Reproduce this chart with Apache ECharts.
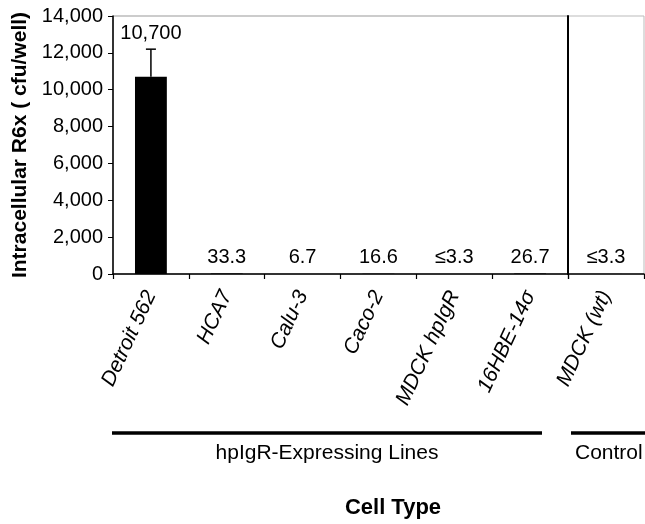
<!DOCTYPE html>
<html>
<head>
<meta charset="utf-8">
<script src="https://cdn.jsdelivr.net/npm/echarts@6/dist/echarts.min.js"></script>
<style>html,body{margin:0;padding:0;background:#fff}#c{width:645px;height:524px}</style>
</head>
<body>
<div id="c"></div>
<script>
// ---- data ----
const expressingCats = ['Detroit 562', 'HCA7', 'Calu-3', 'Caco-2', 'MDCK hpIgR', '16HBE-14σ'];
const expressingVals = [10700, 33.3, 6.7, 16.6, 3.3, 26.7];
const expressingErr = [1500, 0, 0, 0, 0, 0];
const expressingLabels = ['10,700', '33.3', '6.7', '16.6', '≤3.3', '26.7'];
const controlCats = ['MDCK (wt)'];
const controlVals = [3.3];
const controlErr = [0];
const controlLabels = ['≤3.3'];
const yTicks = { min: 0, max: 14000, interval: 2000 };

const FONT = '"Liberation Sans", Arial, Helvetica, sans-serif';
const chart = echarts.init(document.getElementById('c'), null, { renderer: 'canvas' });

function errRender(labels) {
  return function (params, api) {
    const i = api.value(0), v = api.value(1), e = api.value(2);
    const base = api.coord([i, v]);
    const top = api.coord([i, v + e]);
    const children = [];
    if (e > 0) {
      children.push({ type: 'line', shape: { x1: base[0], y1: base[1], x2: top[0], y2: top[1] }, style: { stroke: '#000', lineWidth: 1.5 } });
      children.push({ type: 'line', shape: { x1: top[0] - 5, y1: top[1], x2: top[0] + 5, y2: top[1] }, style: { stroke: '#000', lineWidth: 1.5 } });
    }
    children.push({ type: 'text', x: top[0], y: top[1] - 6, style: { text: labels[params.dataIndex], fontFamily: FONT, fontSize: 20, fill: '#000', align: 'center', verticalAlign: 'bottom' } });
    return { type: 'group', children };
  };
}

const xCommon = {
  type: 'category',
  axisLine: { lineStyle: { color: '#000', width: 1.5 } },
  axisTick: { show: true, length: 5, lineStyle: { color: '#000', width: 1.2 } },
  axisLabel: { rotate: 65, fontFamily: FONT, fontSize: 21, fontStyle: 'italic', color: '#000', margin: 18, interval: 0 }
};

const option = {
  animation: false,
  backgroundColor: '#fff',
  grid: [
    { left: 113, top: 16, width: 455, height: 258, show: true, borderColor: '#999', borderWidth: 1 },
    { left: 568, top: 16, width: 76, height: 258, show: true, borderColor: '#bbb', borderWidth: 1 }
  ],
  xAxis: [
    Object.assign({ gridIndex: 0, data: expressingCats }, xCommon),
    Object.assign({ gridIndex: 1, data: controlCats }, xCommon)
  ],
  yAxis: [
    {
      gridIndex: 0, type: 'value', min: yTicks.min, max: yTicks.max, interval: yTicks.interval,
      name: 'Intracellular R6x ( cfu/well)', nameLocation: 'middle', nameGap: 72,
      nameTextStyle: { fontFamily: FONT, fontSize: 21, fontWeight: 'bold', color: '#000' },
      axisLine: { show: true, lineStyle: { color: '#000', width: 1.5 } },
      axisTick: { show: true, length: 5, lineStyle: { color: '#000' } },
      axisLabel: { fontFamily: FONT, fontSize: 20, color: '#000', margin: 10, formatter: v => v.toLocaleString('en-US') },
      splitLine: { show: false }
    },
    {
      gridIndex: 1, type: 'value', min: yTicks.min, max: yTicks.max, interval: yTicks.interval,
      axisLine: { show: true, lineStyle: { color: '#000', width: 2 } },
      axisTick: { show: false }, axisLabel: { show: false }, splitLine: { show: false }
    }
  ],
  series: [
    { type: 'bar', xAxisIndex: 0, yAxisIndex: 0, data: expressingVals, barWidth: '42%', itemStyle: { color: '#000' } },
    { type: 'bar', xAxisIndex: 1, yAxisIndex: 1, data: controlVals, barWidth: '42%', itemStyle: { color: '#000' } },
    { type: 'custom', xAxisIndex: 0, yAxisIndex: 0, renderItem: errRender(expressingLabels),
      data: expressingVals.map((v, i) => [i, v, expressingErr[i]]), encode: { x: 0, y: 1 }, z: 5 },
    { type: 'custom', xAxisIndex: 1, yAxisIndex: 1, renderItem: errRender(controlLabels),
      data: controlVals.map((v, i) => [i, v, controlErr[i]]), encode: { x: 0, y: 1 }, z: 5 }
  ],
  graphic: [
    { type: 'line', shape: { x1: 112, y1: 433, x2: 542, y2: 433 }, style: { stroke: '#000', lineWidth: 3.5 } },
    { type: 'line', shape: { x1: 571, y1: 433, x2: 645, y2: 433 }, style: { stroke: '#000', lineWidth: 3.5 } },
    { type: 'text', x: 327, y: 453, style: { text: 'hpIgR-Expressing Lines', fontFamily: FONT, fontSize: 21, fill: '#000', align: 'center', verticalAlign: 'middle' } },
    { type: 'text', x: 575, y: 453, style: { text: 'Control', fontFamily: FONT, fontSize: 21, fill: '#000', align: 'left', verticalAlign: 'middle' } },
    { type: 'text', x: 393, y: 508, style: { text: 'Cell Type', fontFamily: FONT, fontSize: 22, fontWeight: 'bold', fill: '#000', align: 'center', verticalAlign: 'middle' } }
  ]
};
chart.setOption(option);
</script>
</body>
</html>
